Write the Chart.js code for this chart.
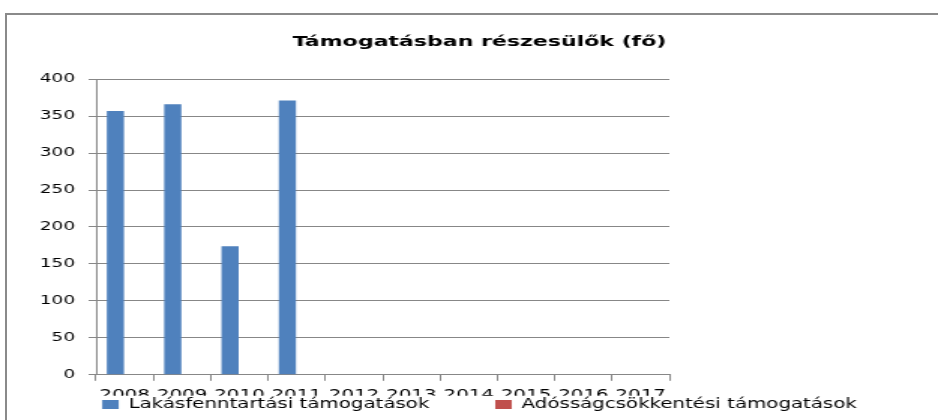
<!DOCTYPE html>
<html>
<head>
<meta charset="utf-8">
<title>Támogatásban részesülők</title>
<script src="https://cdn.jsdelivr.net/npm/chart.js@4"></script>
<style>
  html, body { margin: 0; padding: 0; background: #fff; overflow: hidden; }
  #frame {
    position: absolute; left: 5px; top: 13px; width: 980px; height: 460px;
    border-top: 2px solid #8a8a8a; border-left: 2px solid #8a8a8a;
  }
  #chart { position: absolute; left: 0; top: 0; }
</style>
</head>
<body>
<div id="frame"></div>
<!-- the original picture is stretched sideways, so the canvas is drawn narrow and widened by css -->
<canvas id="chart" width="625" height="420" style="width:938px;height:420px"></canvas>
<script>
const years = ['2008', '2009', '2010', '2011', '2012', '2013', '2014', '2015', '2016', '2017'];
const lakasfenntartasi = [357, 366, 174, 371, null, null, null, null, null, null];
const adossagcsokkentesi = [null, null, null, null, null, null, null, null, null, null];
const yTicks = [0, 50, 100, 150, 200, 250, 300, 350, 400];

const gridColor = '#878787';
const tickFont = { family: 'DejaVu Sans', size: 12.3 };

const ctx = document.getElementById('chart').getContext('2d');
const chart = new Chart(ctx, {
    type: 'bar',
    data: {
        labels: years,
        datasets: [{
            label: 'Lakásfenntartási támogatások',
            data: lakasfenntartasi,
            backgroundColor: '#4f81bd',
            borderWidth: 0,
            categoryPercentage: 0.65,
            barPercentage: 0.92
        }, {
            label: 'Adósságcsökkentési támogatások',
            data: adossagcsokkentesi,
            backgroundColor: '#c0504d',
            borderWidth: 0,
            categoryPercentage: 0.65,
            barPercentage: 0.92
        }]
    },
    options: {
        responsive: false,
        devicePixelRatio: 1,
        animation: false,
        layout: { padding: { left: 14, right: 0, top: 0, bottom: -1 } },
        plugins: {
            title: {
                display: true,
                text: 'Támogatásban részesülők (fő)',
                color: '#000',
                font: { family: 'DejaVu Sans', size: 14.7, weight: 'bold' },
                padding: { top: 33, bottom: 28.5 }
            },
            legend: {
                position: 'bottom',
                labels: {
                    color: '#000',
                    font: { family: 'DejaVu Sans', size: 13.2 },
                    boxWidth: 11,
                    boxHeight: 9,
                    padding: 2,
                    generateLabels: function(chart) {
                        const items = Chart.defaults.plugins.legend.labels.generateLabels(chart);
                        // room between the two entries, as in the original
                        items[0].text = items[0].text + '          ';
                        return items;
                    }
                }
            },
            tooltip: { enabled: false }
        },
        scales: {
            x: {
                grid: { drawOnChartArea: false, color: gridColor, tickLength: 6 },
                border: { color: gridColor },
                ticks: { color: '#000', font: { family: 'DejaVu Sans', size: 13.2 }, padding: 7, minRotation: 0, maxRotation: 0, autoSkip: false },
                afterFit: function(scale) { scale.height = 21; }
            },
            y: {
                min: 0,
                max: 400,
                grid: { color: gridColor, tickLength: 5 },
                border: { color: gridColor },
                ticks: { color: '#000', font: tickFont, padding: 9, stepSize: 50 },
                afterBuildTicks: function(scale) {
                    scale.ticks = yTicks.map(v => ({ value: v }));
                },
                afterFit: function(scale) { scale.width = 50; }
            },
            spacer: {
                type: 'linear',
                position: 'right',
                grid: { display: false },
                border: { display: false },
                ticks: { display: false },
                afterFit: function(scale) { scale.width = 179; }
            }
        }
    }
});
</script>
</body>
</html>
